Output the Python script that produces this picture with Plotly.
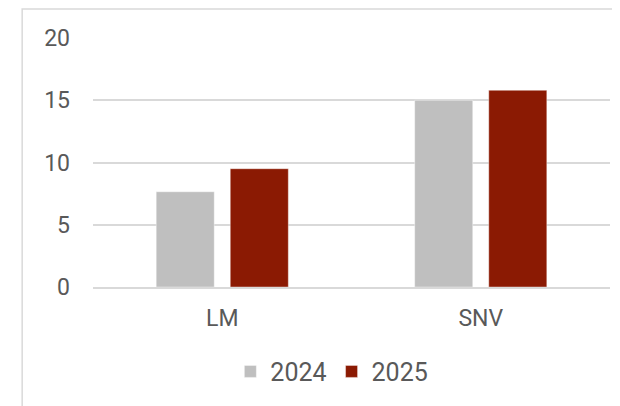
import plotly.graph_objects as go

categories = ["LM", "SNV"]
years = ["2024", "2025"]
values_2024 = [7.65, 15.0]
values_2025 = [9.5, 15.8]
y_ticks = [0, 5, 10, 15, 20]

colors = {"2024": "#BFBFBF", "2025": "#8B1A03"}
text_color = "#595959"
grid_color = "#D9D9D9"

fig = go.Figure()

for year, vals in zip(years, [values_2024, values_2025]):
    fig.add_trace(go.Bar(
        x=categories,
        y=vals,
        name=year,
        marker=dict(color=colors[year], line=dict(color="rgba(255,255,255,0.4)", width=1)),
    ))

# outer chart border (only top/left visible in the crop)
fig.add_shape(
    type="rect", xref="paper", yref="paper",
    x0=-0.137, x1=1.2, y0=-1.0, y1=1.1165,
    line=dict(color=grid_color, width=1.5),
    fillcolor="rgba(0,0,0,0)", layer="below",
)

fig.update_layout(
    width=620,
    height=406,
    margin=dict(l=85, r=18, t=30, b=127),
    paper_bgcolor="white",
    plot_bgcolor="white",
    barmode="group",
    bargap=0.427,
    bargroupgap=0.216,
    font=dict(family="Roboto", size=23, color=text_color),
    showlegend=True,
    legend=dict(
        orientation="h",
        xanchor="center",
        x=0.462,
        yanchor="middle",
        y=-0.34,
        font=dict(size=25, color=text_color),
        itemwidth=30,
        traceorder="normal",
    ),
)

fig.update_yaxes(
    range=[0, 20],
    tickvals=y_ticks,
    showgrid=True,
    gridcolor=grid_color,
    gridwidth=1.5,
    zeroline=False,
    showline=False,
    ticks="",
    ticklabelstandoff=22,
)
fig.update_xaxes(
    showgrid=False,
    showline=True,
    linecolor=grid_color,
    linewidth=1.5,
    ticks="",
    ticklabelstandoff=10,
)

fig.write_html("out.html")
